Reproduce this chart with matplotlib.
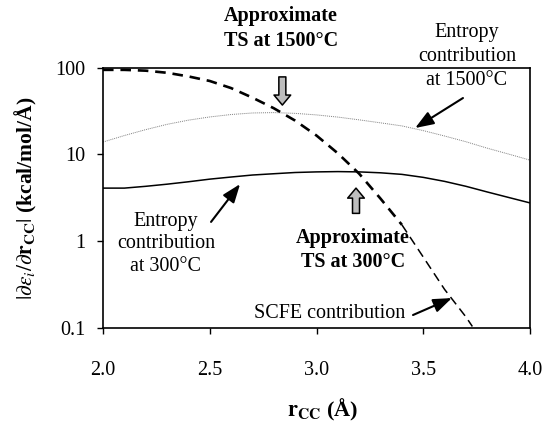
import numpy as np
import matplotlib
matplotlib.use("Agg")
from matplotlib import pyplot as plt
import matplotlib.ticker as mtick

plt.rcParams['font.family'] = ['Liberation Serif', 'DejaVu Serif']
plt.rcParams['mathtext.fontset'] = 'stix'

# values (r_CC in Angstrom, |de/dr| in kcal/mol/A)
r_scfe = [2.0, 2.1, 2.2, 2.3, 2.4, 2.5, 2.6, 2.7, 2.8, 2.9, 3.0, 3.1, 3.2,
          3.3, 3.4, 3.5, 3.6, 3.7, 3.73]
scfe = [94, 94, 92, 87, 79, 70, 58, 45, 34, 24.5, 16.5, 10.3, 6.0,
        3.1, 1.55, 0.66, 0.28, 0.135, 0.105]

r_ent = [2.0, 2.1, 2.2, 2.3, 2.4, 2.5, 2.6, 2.7, 2.8, 2.9, 3.0, 3.1, 3.2,
         3.3, 3.4, 3.5, 3.6, 3.7, 3.8, 3.9, 4.0]
ent1500 = [13.9, 16.5, 19.3, 22.2, 24.8, 27.0, 28.8, 30.0, 30.3, 29.7, 28.5,
           26.9, 25.0, 23.1, 21.3, 18.8, 16.3, 14.0, 11.8, 10.1, 8.6]
ent300 = [4.1, 4.1, 4.3, 4.55, 4.85, 5.2, 5.5, 5.8, 6.0, 6.2, 6.3, 6.35, 6.3,
          6.15, 5.9, 5.45, 4.9, 4.3, 3.7, 3.2, 2.77]

xticks = [2.0, 2.5, 3.0, 3.5, 4.0]
yticks = [0.1, 1, 10, 100]

ts1500 = (2.84, 78, 37)   # r, arrow tail, arrow tip
ts300 = (3.185, 2.1, 4.1)

fig = plt.figure(figsize=(5.45, 4.22), dpi=100)
ax = fig.add_axes([0.189, 0.222, 0.7835, 0.618])

ax.plot(r_ent, ent1500, color='0.5', lw=0.7, ls=(0, (1, 1)))
ax.plot(r_ent, ent300, color='black', lw=1.1)
ax.plot(r_scfe[:15], scfe[:15], color='black', lw=1.9, dashes=(4, 2.6))
ax.plot(r_scfe[14:], scfe[14:], color='black', lw=1.1, dashes=(6, 3.5))

ax.set_yscale('log')
ax.set_xlim(2.0, 4.0)
ax.set_ylim(0.1, 100)
ax.set_xticks(xticks)
ax.set_yticks(yticks)
ax.yaxis.set_minor_locator(mtick.NullLocator())
ax.xaxis.set_major_formatter(mtick.FormatStrFormatter('%.1f'))
ax.yaxis.set_major_formatter(mtick.FuncFormatter(lambda v, p: '%g' % v))
ax.tick_params(direction='out', length=4.5, width=1, labelsize=14.5)
ax.tick_params(axis='x', pad=19)
ax.tick_params(axis='y', pad=8)
for s in ax.spines.values():
    s.set_linewidth(1.2)

ax.set_xlabel(r'$\mathbf{r}_{\mathbf{CC}}$ (Å)', fontsize=16, fontweight='bold')
ax.xaxis.set_label_coords(0.515, -0.265)
ax.set_ylabel(r'$|\partial\varepsilon_i/\partial\mathbf{r}_{\mathbf{CC}}|$ (kcal/mol/Å)',
              fontsize=15.5, fontweight='bold')
ax.yaxis.set_label_coords(-0.15, 0.5)

# grey block arrows marking the transition states
block = dict(arrowstyle='simple,head_length=0.6,head_width=1.0,tail_width=0.42',
             mutation_scale=12, fc='#bdbdbd', ec='black', lw=1.1,
             shrinkA=0, shrinkB=0)
for r, tail, tip in (ts1500, ts300):
    ax.annotate('', xy=(r, tip), xytext=(r, tail), arrowprops=block)

ax.text(0.417, 1.15, 'Approximate\nTS at 1500°C', transform=ax.transAxes,
        ha='center', va='center', fontsize=14.5, fontweight='bold', linespacing=1.3)
ax.text(0.5855, 0.30, 'Approximate\nTS at 300°C', transform=ax.transAxes,
        ha='center', va='center', fontsize=14.5, fontweight='bold', linespacing=1.3)
ax.text(0.852, 1.042, 'Entropy\ncontribution\nat 1500°C', transform=ax.transAxes,
        ha='center', va='center', fontsize=14.5, linespacing=1.35)
ax.text(0.1475, 0.325, 'Entropy\ncontribution\nat 300°C', transform=ax.transAxes,
        ha='center', va='center', fontsize=14.5, linespacing=1.25)
ax.text(0.53, 0.056, 'SCFE contribution', transform=ax.transAxes,
        ha='center', va='center', fontsize=14.5)

pointer = dict(arrowstyle='-|>,head_length=0.8,head_width=0.3', mutation_scale=14,
               color='black', lw=1.5, shrinkA=0, shrinkB=0)
for tail, tip in [((0.843, 0.883), (0.731, 0.768)),
                  ((0.253, 0.408), (0.321, 0.553)),
                  ((0.726, 0.051), (0.817, 0.116))]:
    ax.annotate('', xy=tip, xytext=tail, xycoords='axes fraction',
                textcoords='axes fraction', arrowprops=pointer)

fig.savefig('out.png', dpi=100)
